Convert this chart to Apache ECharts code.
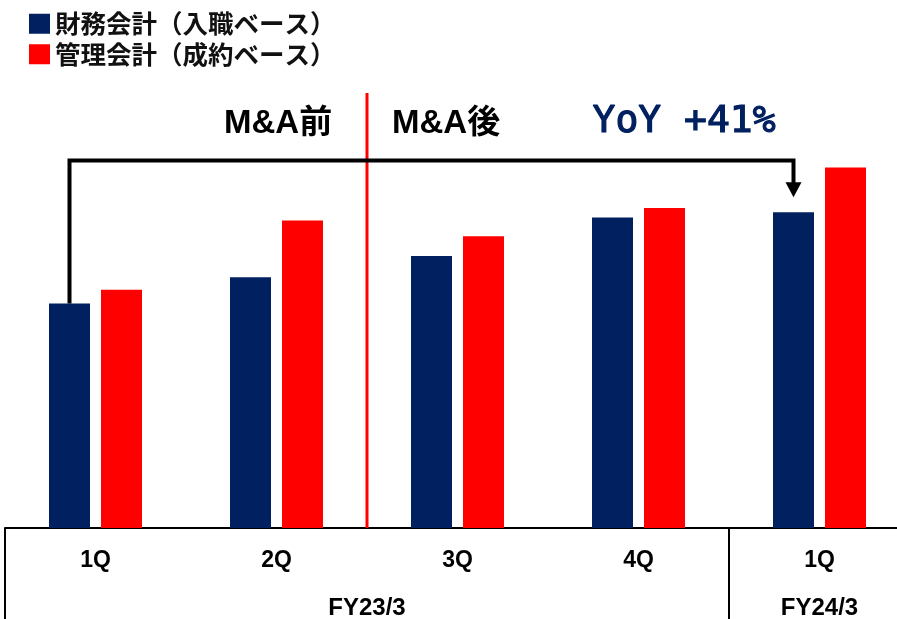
<!DOCTYPE html>
<html>
<head>
<meta charset="utf-8">
<script src="https://cdn.jsdelivr.net/npm/echarts@6/dist/echarts.min.js"></script>
<style>
  html, body { margin: 0; padding: 0; background: #fff; }
  #main { width: 897px; height: 619px; }
</style>
</head>
<body>
<div id="main"></div>
<script>
// 四半期ラベル
var quarters = ['1Q', '2Q', '3Q', '4Q', '1Q'];
// 財務会計(入職ベース) / 管理会計(成約ベース) 指数 (目盛なしのため画像から読み取り)
var financial = [103.2, 115.3, 125.1, 142.8, 145.2];
var management = [109.5, 141.4, 134.1, 147.1, 165.8];
// 年度グループ
var fyLabels = ['FY23/3', 'FY24/3'];
var fyStart = [0, 4];
var fyEnd = [3, 4];
// M&A前後の区切り (2Qと3Qの間)
var dividerAfter = 1;

var NAVY = '#002060';
var RED = '#FF0000';
var BAR_W = 41;
var BAR_GAP = 11;
var Y_MAX = 200;
var LINK_LEVEL = 169; // 矢印の水平線の高さ(値)

var chart = echarts.init(document.getElementById('main'));

var option = {
    animation: false,
    legend: {
        orient: 'vertical',
        left: 24,
        top: 6,
        icon: 'rect',
        itemWidth: 21,
        itemHeight: 20,
        itemGap: 5,
        selectedMode: false,
        data: ['財務会計（入職ベース）', '管理会計（成約ベース）'],
        textStyle: {
            fontFamily: 'Noto Sans CJK JP',
            fontSize: 25.5,
            fontWeight: 'bold',
            lineHeight: 20,
            color: '#111'
        }
    },
    graphic: [
        {
            type: 'text', left: 224, top: 107,
            style: { text: 'M&A前', fill: '#000', font: 'bold 33px "Liberation Sans", "Noto Sans CJK JP"' }
        },
        {
            type: 'text', left: 392, top: 107,
            style: { text: 'M&A後', fill: '#000', font: 'bold 33px "Liberation Sans", "Noto Sans CJK JP"' }
        },
        {
            type: 'text', left: 592, top: 103,
            style: {
                text: 'YoY +41%', fill: NAVY, font: '38px "DejaVu Sans Mono"',
                stroke: NAVY, lineWidth: 1.2
            }
        }
    ],
    grid: {
        left: 5,
        right: -13,
        top: 93,
        bottom: 91,
        outerBoundsMode: 'none'
    },
    xAxis: {
        type: 'category',
        data: quarters,
        boundaryGap: true,
        axisLine: { lineStyle: { color: '#000', width: 2 } },
        axisTick: {
            show: true,
            length: 95,
            interval: function (index) { return index === 0 || index === 4; },
            lineStyle: { color: '#000', width: 2 }
        },
        axisLabel: {
            margin: 21,
            interval: 0,
            color: '#000',
            fontSize: 23,
            fontWeight: 'bold',
            fontFamily: 'Liberation Sans'
        },
        splitLine: { show: false }
    },
    yAxis: {
        type: 'value',
        min: 0,
        max: Y_MAX,
        show: false
    },
    series: [
        {
            name: '財務会計（入職ベース）',
            type: 'bar',
            data: financial,
            barWidth: BAR_W,
            barGap: (BAR_GAP / BAR_W * 100) + '%',
            itemStyle: { color: NAVY }
        },
        {
            name: '管理会計（成約ベース）',
            type: 'bar',
            data: management,
            barWidth: BAR_W,
            itemStyle: { color: RED }
        },
        {
            // M&A前後の区切り線
            type: 'custom',
            clip: false,
            silent: true,
            z: 1,
            data: [[dividerAfter, 0]],
            renderItem: function (params, api) {
                var a = api.coord([dividerAfter, 0]);
                var b = api.coord([dividerAfter + 1, Y_MAX]);
                var x = (a[0] + b[0]) / 2;
                return {
                    type: 'line',
                    shape: { x1: x, y1: b[1], x2: x, y2: a[1] },
                    style: { stroke: RED, lineWidth: 3 }
                };
            }
        },
        {
            // YoY 矢印
            type: 'custom',
            clip: false,
            silent: true,
            z: 5,
            data: [[0, financial[0]]],
            renderItem: function (params, api) {
                var half = (BAR_W + BAR_GAP) / 2;
                var s = api.coord([0, financial[0]]);
                var e = api.coord([4, financial[4]]);
                var ly = api.coord([0, LINK_LEVEL])[1];
                var sx = s[0] - half, ex = e[0] - half;
                var tip = e[1] - 15;
                return {
                    type: 'group',
                    children: [
                        {
                            type: 'polyline',
                            shape: { points: [[sx, s[1]], [sx, ly], [ex, ly], [ex, tip - 14]] },
                            style: { stroke: '#000', lineWidth: 4, fill: null, lineJoin: 'miter' }
                        },
                        {
                            type: 'polygon',
                            shape: { points: [[ex - 8, tip - 15], [ex + 8, tip - 15], [ex, tip]] },
                            style: { fill: '#000' }
                        }
                    ]
                };
            }
        },
        {
            // 年度ラベル
            type: 'custom',
            clip: false,
            silent: true,
            data: [[0, 0], [1, 0]],
            renderItem: function (params, api) {
                var i = params.dataIndex;
                var a = api.coord([fyStart[i], 0]);
                var b = api.coord([fyEnd[i], 0]);
                return {
                    type: 'text',
                    style: {
                        text: fyLabels[i],
                        x: (a[0] + b[0]) / 2,
                        y: a[1] + 80,
                        align: 'center',
                        verticalAlign: 'middle',
                        fill: '#000',
                        fontSize: 24,
                        fontWeight: 'bold',
                        fontFamily: 'Liberation Sans'
                    }
                };
            }
        }
    ]
};

chart.setOption(option);
</script>
</body>
</html>
